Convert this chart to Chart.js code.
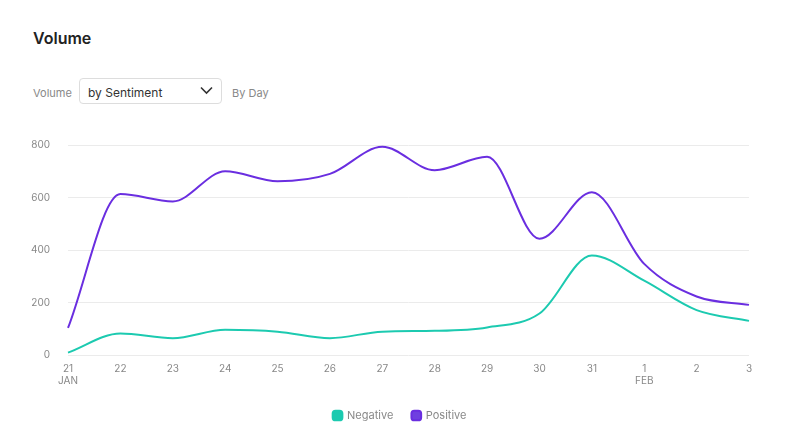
<!DOCTYPE html>
<html>
<head>
<meta charset="utf-8">
<script src="https://cdn.jsdelivr.net/npm/chart.js@4"></script>
<style>
  body { margin: 0; background: #fff; font-family: Inter, sans-serif; }
  #page { position: relative; width: 800px; height: 438px; overflow: hidden; }
  #title { position: absolute; left: 33px; top: 28px; font-size: 16px; font-weight: 600; color: #222; }
  .small { position: absolute; top: 86px; font-size: 11px; color: #888; }
  #select {
    position: absolute; left: 79px; top: 78px; width: 143px; height: 26px;
    border: 1px solid #ddd; border-radius: 4px; box-sizing: border-box;
    font-size: 12px; color: #333; padding: 6px 0 0 8px;
  }
  #chev { position: absolute; right: 8px; top: 7px; }
  #wrap { position: absolute; left: 0; top: 121px; width: 800px; height: 317px; }
</style>
</head>
<body>
<div id="page">
  <div id="title">Volume</div>
  <div class="small" style="left:33px">Volume</div>
  <div id="select">by Sentiment
    <svg id="chev" width="13" height="9" viewBox="0 0 13 9"><path d="M1 1.5 L6.5 7 L12 1.5" fill="none" stroke="#333" stroke-width="1.6"/></svg>
  </div>
  <div class="small" style="left:232px">By Day</div>
  <div id="wrap"><canvas id="chart"></canvas></div>
</div>
<script>
var days = [["21", "JAN"], "22", "23", "24", "25", "26", "27", "28", "29", "30", "31", ["1", "FEB"], "2", "3"];
var negative = [9, 82, 64, 96, 89, 64, 89, 92, 105, 158, 379, 283, 171, 130];
var positive = [103, 613, 585, 700, 662, 690, 793, 704, 755, 443, 620, 347, 223, 191];
var yTicks = [0, 200, 400, 600, 800];

var ctx = document.getElementById("chart").getContext("2d");
new Chart(ctx, {
  type: "line",
  data: {
    labels: days,
    datasets: [
      {
        label: "Negative",
        data: negative,
        borderColor: "#1ccab0",
        backgroundColor: "#1ccab0",
        borderWidth: 2,
        pointRadius: 0,
        cubicInterpolationMode: "monotone",
      },
      {
        label: "Positive",
        data: positive,
        borderColor: "#6a2ee0",
        backgroundColor: "#6f3fe0",
        borderWidth: 2,
        pointRadius: 0,
        cubicInterpolationMode: "monotone",
      },
    ],
  },
  options: {
    responsive: true,
    maintainAspectRatio: false,
    animation: false,
    layout: { padding: { top: 14, right: 0, left: 0, bottom: 7 } },
    scales: {
      x: {
        afterFit: function (scale) { scale.height += 4; },
        grid: { display: false },
        border: { display: false },
        ticks: {
          color: "#888",
          font: { family: "Inter", size: 10 },
          maxRotation: 0,
          autoSkip: false,
          padding: 0,
        },
      },
      y: {
        min: 0,
        max: 800,
        afterFit: function (scale) { scale.width = 68; },
        afterBuildTicks: function (scale) {
          scale.ticks = yTicks.map(function (v) { return { value: v }; });
        },
        grid: { color: "#ebebeb", drawTicks: false },
        border: { display: false },
        ticks: {
          color: "#888",
          font: { family: "Inter", size: 10 },
          padding: 18,
        },
      },
      // empty right axis, only there so the legend stays centred on the page
      spacer: {
        position: "right",
        afterFit: function (scale) { scale.width = 51; },
        grid: { display: false },
        border: { display: false },
        ticks: { display: false },
      },
    },
    plugins: {
      tooltip: { enabled: false },
      legend: {
        position: "bottom",
        labels: {
          usePointStyle: true,
          pointStyle: "rectRounded",
          boxWidth: 8,
          boxHeight: 8,
          padding: 19,
          color: "#888",
          font: { family: "Inter", size: 11 },
        },
      },
    },
  },
});
</script>
</body>
</html>
